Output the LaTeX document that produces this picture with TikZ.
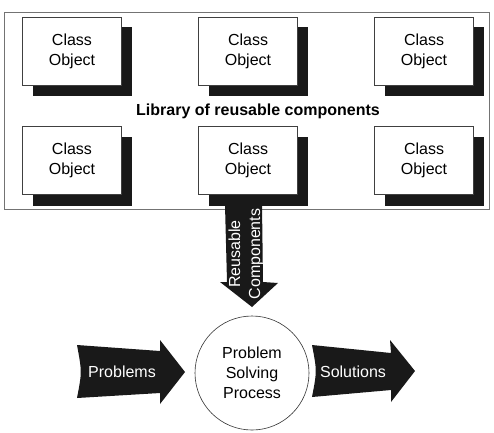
\documentclass[tikz,border=0pt]{standalone}
\usepackage{fontspec}
\setmainfont{Liberation Sans}
\begin{document}
\begin{tikzpicture}[x=1pt, y=-1pt, font=\fontsize{16}{20}\selectfont,
    classbox/.style={draw=black!75, fill=white, minimum width=99pt, minimum height=68pt,
      inner sep=0pt, align=center},
    boxshadow/.style={fill=black!90},
    blockarrow/.style={fill=black!90},
    arrowtext/.style={text=white, align=center, inner sep=0pt}]
  \useasboundingbox (0,0) rectangle (494,432);
  % library frame
  \draw[black!55] (4,12) rectangle (489,209);
  \node[font=\fontsize{16}{20}\selectfont\bfseries] (library) at (258,111) {Library of reusable components};
  % arrow down out of the library
  \fill[blockarrow] (225,205) -- (262,205) -- (263,282) -- (278,283) -- (252,307)
    -- (220,282) -- (227,282) -- cycle;
  \node[arrowtext, rotate=90] (reusable) at (246,254) {Reusable\\Components};
  % class objects with their shadows
  \foreach \x/\col in {72/a, 248/b, 424/c}
    \foreach \y/\row in {51/1, 160.5/2}{
      \fill[boxshadow] (\x-39.5,\y-24) rectangle (\x+59.5,\y+45);
      \node[classbox] (obj\col\row) at (\x,\y) {Class\\Object};
    };
  % process
  \node[draw=black!80, semithick, circle, minimum size=114pt, inner sep=0pt, align=center]
    (process) at (252,373) {Problem\\Solving\\Process};
  \fill[blockarrow] (77,345) -- (160,351) -- (160,340) -- (185,372) -- (160,404)
    -- (160,393) -- (77,398) .. controls (82,372) .. (77,345) -- cycle;
  \node[arrowtext] (problems) at (122,372) {Problems};
  \fill[blockarrow] (312,345) -- (391,353) -- (390,340) -- (415,371) -- (391,402)
    -- (391,390) -- (312,397) .. controls (317,371) .. (312,345) -- cycle;
  \node[arrowtext] (solutions) at (353,372) {Solutions};
\end{tikzpicture}
\end{document}
